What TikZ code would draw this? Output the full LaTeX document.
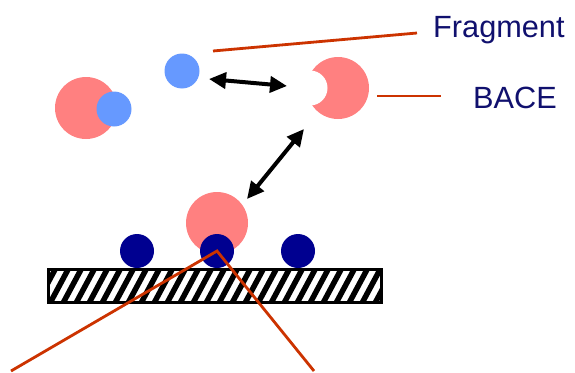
\documentclass[tikz,border=0pt]{standalone}
\usepackage{fontspec}
\setmainfont{Liberation Sans}
\usetikzlibrary{arrows.meta}
\definecolor{bacepink}{RGB}{255,128,128}
\definecolor{fragblue}{RGB}{102,153,255}
\definecolor{anchorblue}{RGB}{0,0,144}
\definecolor{leadred}{RGB}{204,51,0}
\definecolor{labelnavy}{RGB}{16,16,110}
\tikzset{
  ball/.style={circle, inner sep=0pt, minimum size=#1},
  enzyme/.style={ball=62pt, fill=bacepink},
  frag/.style={ball=35pt, fill=fragblue},
  tether/.style={ball=34pt, fill=anchorblue},
  leader/.style={draw=leadred, line width=2.8pt},
  exchange/.style={line width=4pt, {Triangle[length=17pt,width=16pt]}-{Triangle[length=17pt,width=16pt]}},
  label/.style={inner sep=0pt, text=labelnavy, font=\fontsize{30.7}{36}\selectfont, anchor=base west}
}
\begin{document}
\begin{tikzpicture}[x=1pt, y=-1pt]
  \useasboundingbox (0,0) rectangle (575,372);

  % enzyme with a fragment in its pocket
  \node[enzyme] (cplx) at (86,108) {};
  \node[frag] (cplxfrag) at (114,109) {};

  % free fragment
  \node[frag] (freefrag) at (182,71) {};

  % free enzyme with its empty pocket
  \node[enzyme] (freeenz) at (338,88) {};
  \node[ball=35pt, fill=white] (pocket) at (310,88) {};

  % enzyme caught by the surface
  \node[enzyme] (boundenz) at (217,223) {};

  % tethered ligands on the surface
  \node[tether] (lig1) at (137,251) {};
  \node[tether] (lig2) at (217,251) {};
  \node[tether] (lig3) at (298,251) {};

  % hatched support
  \begin{scope}
    \clip (47,268) rectangle (380,301);
    \foreach \s in {10,23,...,400}
      \draw[line width=5.5pt] (\s,305) -- (\s+22,264);
  \end{scope}
  \node[draw, line width=2.6pt, inner sep=0pt, minimum width=333pt, minimum height=33pt, anchor=north west] (surface) at (47,268) {};

  % exchange arrows
  \coordinate (a1) at (209,79);
  \coordinate (a2) at (287,86);
  \coordinate (b1) at (304,129);
  \coordinate (b2) at (247,199);
  \draw[exchange] (a1) -- (a2);
  \draw[exchange] (b1) -- (b2);

  % labels and leader lines
  \node[label] (fraglabel) at (433,37) {Fragment};
  \node[label] (bacelabel) at (473,108) {BACE};
  \coordinate (f1) at (213,51);
  \coordinate (f2) at (417,33);
  \coordinate (e1) at (377,96);
  \coordinate (e2) at (441,96);
  \draw[leader] (f1) -- (f2);
  \draw[leader] (e1) -- (e2);

  % leader lines from the central ligand
  \coordinate (l1) at (11,371);
  \coordinate (l2) at (314,371);
  \draw[leader, line join=miter] (l1) -- (lig2.center) -- (l2);
\end{tikzpicture}
\end{document}
